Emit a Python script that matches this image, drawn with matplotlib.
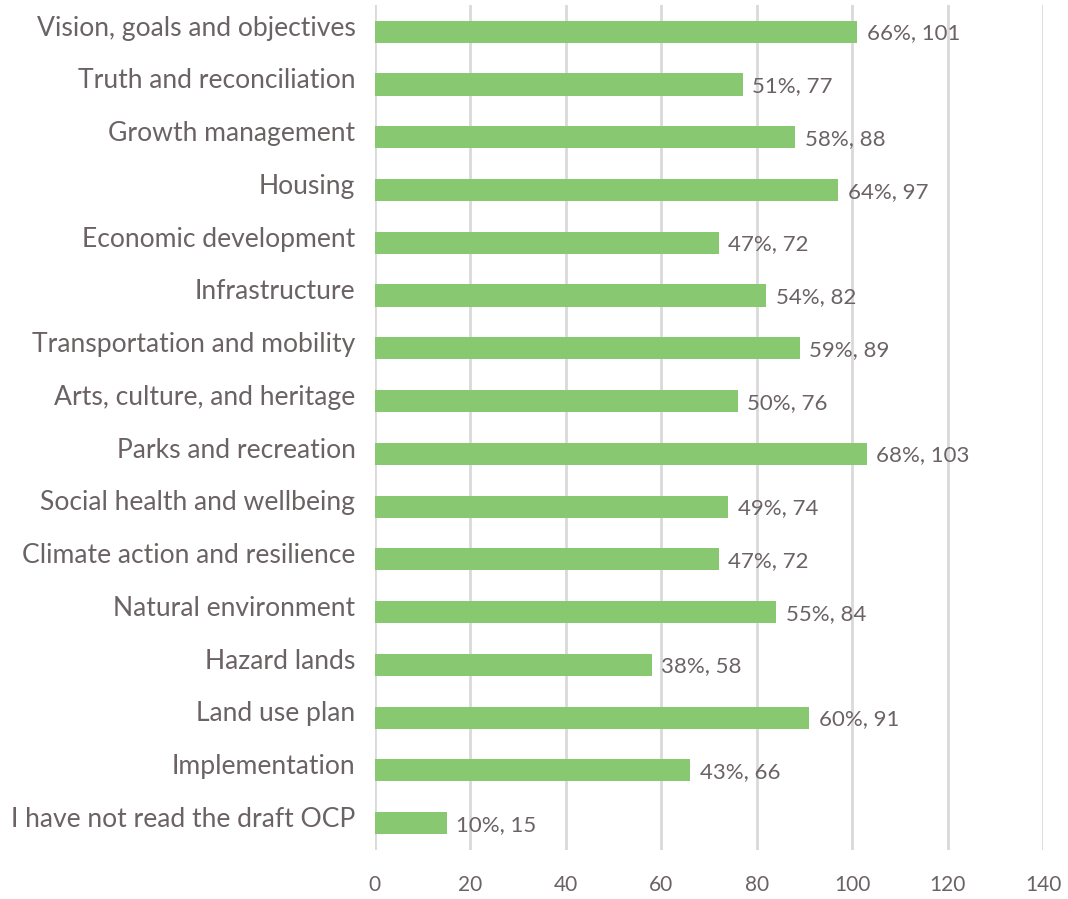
import numpy as np
from matplotlib import pyplot as plt
from matplotlib import transforms

categories = ['Vision, goals and objectives', 'Truth and reconciliation', 'Growth management',
              'Housing', 'Economic development', 'Infrastructure', 'Transportation and mobility',
              'Arts, culture, and heritage', 'Parks and recreation', 'Social health and wellbeing',
              'Climate action and resilience', 'Natural environment', 'Hazard lands',
              'Land use plan', 'Implementation', 'I have not read the draft OCP']
counts = [101, 77, 88, 97, 72, 82, 89, 76, 103, 74, 72, 84, 58, 91, 66, 15]
percents = [66, 51, 58, 64, 47, 54, 59, 50, 68, 49, 47, 55, 38, 60, 43, 10]

text_col = '#6b6264'
bar_col = '#88c870'

plt.rcParams['font.family'] = ['Lato', 'DejaVu Sans']

fig = plt.figure(figsize=(10.68, 8.99), dpi=100)
ax = fig.add_axes([0.351, 0.055, 0.626, 0.939])

y = np.arange(len(categories))
ax.barh(y, counts, height=0.42, color=bar_col, zorder=3)
for yi, c, p in zip(y, counts, percents):
    ax.text(c + 2, yi + 0.03, '%d%%, %d' % (p, c), va='center', ha='left',
            fontsize=16, color=text_col, zorder=4)

ax.set_ylim(len(categories) - 0.5, -0.5)
ax.set_xlim(0, 140)
ax.set_xticks(np.arange(0, 141, 20))
ax.set_yticks(y)
ax.set_yticklabels(categories)
ax.tick_params(axis='y', length=0, pad=14, labelsize=19.1, labelcolor=text_col)
ax.tick_params(axis='x', length=0, pad=18, labelsize=15, labelcolor=text_col)
# labels sit a little above the bar centres in the original
shift = transforms.ScaledTranslation(0, 4.5 / 72, fig.dpi_scale_trans)
for lab in ax.get_yticklabels():
    lab.set_transform(lab.get_transform() + shift)
ax.grid(axis='x', color='#d9d9d9', linewidth=2, zorder=0)
for s in ax.spines.values():
    s.set_visible(False)

plt.savefig('out.png', dpi=100)
plt.close()
